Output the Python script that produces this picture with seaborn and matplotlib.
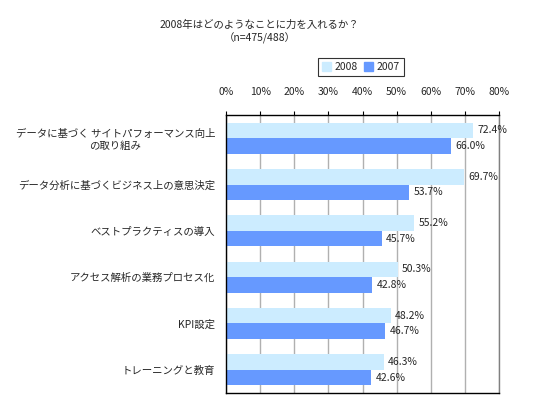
import numpy as np
import pandas as pd
import seaborn as sns
import matplotlib.pyplot as plt

categories = [
    "データに基づく サイトパフォーマンス向上\nの取り組み",
    "データ分析に基づくビジネス上の意思決定",
    "ベストプラクティスの導入",
    "アクセス解析の業務プロセス化",
    "KPI設定",
    "トレーニングと教育",
]
values_2008 = [72.4, 69.7, 55.2, 50.3, 48.2, 46.3]
values_2007 = [66.0, 53.7, 45.7, 42.8, 46.7, 42.6]
years = ["2008", "2007"]
xticks = [0, 10, 20, 30, 40, 50, 60, 70, 80]

df = pd.DataFrame({
    "item": categories * 2,
    "year": [years[0]] * len(categories) + [years[1]] * len(categories),
    "value": values_2008 + values_2007,
})

sns.set_style("white")
plt.rcParams["font.family"] = ["Noto Sans CJK JP", "DejaVu Sans"]

fig = plt.figure(figsize=(5.57, 4.08), dpi=100)
ax = fig.add_axes([0.406, 0.037, 0.490, 0.681])

sns.barplot(data=df, x="value", y="item", hue="year", hue_order=years,
            order=categories, orient="h", width=0.67, dodge=True,
            palette=["#CCECFF", "#6699FF"], saturation=1, ax=ax,
            legend=False, linewidth=0)

for cont in ax.containers:
    ax.bar_label(cont, fmt="%.1f%%", padding=3, fontsize=7.5)

ax.set_xlim(0, 80)
ax.set_xticks(xticks)
ax.set_xticklabels([f"{t}%" for t in xticks], fontsize=7.5)
ax.xaxis.tick_top()
ax.tick_params(axis="x", which="major", direction="out", length=3, width=0.8,
               color="black", pad=10)
ax.grid(axis="x", color="#B0B0B0", linewidth=1)
ax.set_axisbelow(True)

ax.set_yticks(range(len(categories)))
ax.set_yticklabels(categories, fontsize=7.5, multialignment="center")
ax.tick_params(axis="y", which="major", length=0, pad=8)
ax.set_yticks(np.arange(-0.5, len(categories), 1.0), minor=True)
ax.tick_params(axis="y", which="minor", direction="out", length=3, width=0.8,
               color="black")
ax.set_ylim(len(categories) - 0.5, -0.5)
ax.set_xlabel("")
ax.set_ylabel("")

for side in ["left", "top", "bottom"]:
    ax.spines[side].set_color("black")
    ax.spines[side].set_linewidth(1)
ax.spines["right"].set_color("#808080")
ax.spines["right"].set_linewidth(1)

handles = [plt.Rectangle((0, 0), 1, 1, color=c) for c in ["#CCECFF", "#6699FF"]]
leg = fig.legend(handles, years, loc="center", bbox_to_anchor=(0.648, 0.835),
                 ncol=2, fontsize=7.5, frameon=True, fancybox=False,
                 handlelength=0.9, handleheight=0.9, handletextpad=0.3,
                 columnspacing=0.6, borderpad=0.4)
leg.get_frame().set_edgecolor("black")
leg.get_frame().set_linewidth(0.8)

fig.text(0.466, 0.939, "2008年はどのようなことに力を入れるか？", ha="center",
         va="center", fontsize=7.5)
fig.text(0.467, 0.907, "（n=475/488）", ha="center", va="center", fontsize=7.5)

fig.savefig("out.png", dpi=100)
